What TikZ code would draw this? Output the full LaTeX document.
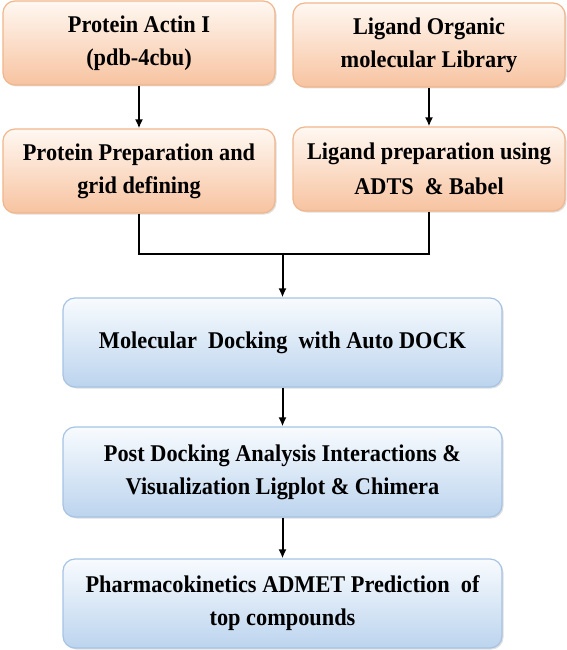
\documentclass[tikz,border=0pt]{standalone}
\usepackage{fontspec}
\setmainfont{Liberation Serif}[FakeStretch=0.93]
\usepackage{xcolor}
\usepackage{tikz}
\usetikzlibrary{arrows.meta,shadows}

\definecolor{peachtop}{HTML}{FFF8F2}
\definecolor{peachbot}{HTML}{F7C3A0}
\definecolor{peachline}{HTML}{F0B68C}
\definecolor{bluetop}{HTML}{F8FBFE}
\definecolor{bluebot}{HTML}{BCD4EE}
\definecolor{blueline}{HTML}{A6C3E4}

\tikzset{
    flowbox/.style = {line width=1.2pt, rounded corners=12pt, align=center,
        font=\bfseries\fontsize{24}{33}\selectfont,
        drop shadow={shadow xshift=1.5pt, shadow yshift=-1.5pt, opacity=0.25}},
    peachbox/.style = {flowbox, draw=peachline, top color=peachtop, bottom color=peachbot,
        minimum width=272pt, minimum height=84pt},
    bluebox/.style = {flowbox, draw=blueline, top color=bluetop, bottom color=bluebot,
        minimum width=439pt, minimum height=89pt},
    flow/.style = {line width=2pt, -{Latex[length=9pt,width=8pt]}},
    link/.style = {line width=2pt}
}

\begin{document}
\begin{tikzpicture}[x=1pt, y=-1pt]
    \useasboundingbox (0,0) rectangle (567,650);

    % top row
    \node[peachbox] (actin) at (139,43) {Protein Actin I\\(pdb-4cbu)};
    \node[peachbox] (library) at (429,45) {Ligand Organic\\molecular Library};

    % preparation
    \node[peachbox] (prep) at (139,171) {Protein Preparation and\\grid defining};
    \node[peachbox] (ligprep) at (429,169) {Ligand preparation using\\[2pt]ADTS \ \& Babel};

    % docking and analysis
    \node[bluebox] (dock) at (282.5,342.5) {Molecular \ Docking \ with Auto DOCK};
    \node[bluebox, minimum height=90pt] (post) at (282.5,472)
        {Post Docking Analysis Interactions \&\\Visualization Ligplot \& Chimera};
    \node[bluebox] (admet) at (282.5,603.5) {Pharmacokinetics ADMET Prediction \ of\\top compounds};

    \coordinate (join) at (282.5,254);

    \draw[flow] (actin) -- (prep);
    \draw[flow] (library) -- (ligprep);
    \draw[link] (prep.south) |- (join);
    \draw[link] (ligprep.south) |- (join);
    \draw[flow] (join) -- (dock.north);
    \draw[flow] (dock) -- (post);
    \draw[flow] (post) -- (admet);
\end{tikzpicture}
\end{document}
